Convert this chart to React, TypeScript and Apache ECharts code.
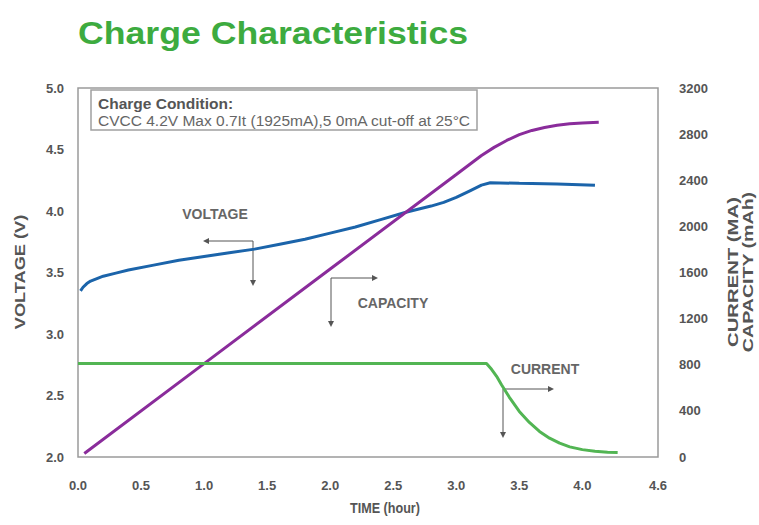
import React, { useEffect, useRef } from "react";
import * as echarts from "echarts";

const xTickValues = [0, 0.5, 1.0, 1.5, 2.0, 2.5, 3.0, 3.5, 4.0, 4.6];

const voltageTime = [0.02, 0.04, 0.07, 0.1, 0.15, 0.2, 0.3, 0.4, 0.6, 0.8, 1.0, 1.2, 1.4, 1.6, 1.8, 2.0, 2.2, 2.4, 2.6, 2.8, 2.9, 3.0, 3.1, 3.2, 3.27, 3.5, 3.8, 4.1];
const voltage = [3.35, 3.38, 3.41, 3.43, 3.45, 3.47, 3.495, 3.52, 3.56, 3.6, 3.63, 3.66, 3.69, 3.73, 3.77, 3.82, 3.87, 3.93, 3.99, 4.04, 4.07, 4.11, 4.16, 4.21, 4.23, 4.225, 4.22, 4.21];

const capacityTime = [0.05, 1.0, 2.0, 3.0, 3.2, 3.3, 3.4, 3.5, 3.6, 3.7, 3.8, 3.9, 4.0, 4.13];
const capacity = [30, 810, 1630, 2450, 2615, 2685, 2745, 2795, 2832, 2858, 2877, 2889, 2896, 2902];

const currentTime = [0.0, 3.24, 3.28, 3.32, 3.36, 3.42, 3.5, 3.58, 3.66, 3.74, 3.82, 3.9, 4.0, 4.1, 4.2, 4.28];
const current = [810, 810, 760, 700, 625, 520, 395, 300, 222, 163, 120, 88, 64, 50, 42, 40];

const GRAY = "#555";
const FONT = "'Liberation Sans', Arial, sans-serif";

function arrowHead(x: number, y: number, dir: "left" | "right" | "down") {
  const s = 6;
  let pts: number[][];
  if (dir === "left") pts = [[x, y], [x + s, y - 3], [x + s, y + 3]];
  else if (dir === "right") pts = [[x, y], [x - s, y - 3], [x - s, y + 3]];
  else pts = [[x, y], [x - 3, y - s], [x + 3, y - s]];
  return { type: "polygon", shape: { points: pts }, style: { fill: GRAY }, silent: true };
}

function seg(x1: number, y1: number, x2: number, y2: number) {
  return { type: "line", shape: { x1, y1, x2, y2 }, style: { stroke: GRAY, lineWidth: 1 }, silent: true };
}

function label(text: string, x: number, y: number) {
  return {
    type: "text",
    x,
    y,
    style: { text, fill: "#666", font: `bold 14px ${FONT}`, textAlign: "center", textVerticalAlign: "middle" },
    silent: true,
  };
}

function vName(text: string, x: number, y: number, sx: number) {
  return {
    type: "text",
    x,
    y,
    rotation: Math.PI / 2,
    scaleX: sx,
    style: { text, fill: GRAY, font: `bold 14px ${FONT}`, textAlign: "center", textVerticalAlign: "middle" },
    silent: true,
  };
}

export default function App() {
  const ref = useRef<HTMLDivElement>(null);
  useEffect(() => {
    if (!ref.current) return;
    const chart = echarts.init(ref.current, undefined, { renderer: "svg" });
    const option: any = {
      animation: false,
      backgroundColor: "#fff",
      grid: { left: 78, right: 101, top: 88, bottom: 68, show: true, borderColor: "#9a9a9a", borderWidth: 1.5, backgroundColor: "transparent" },
      xAxis: {
        type: "value",
        min: 0,
        max: 4.6,
        interval: 0.5,
        axisLine: { show: false },
        axisTick: { show: false },
        splitLine: { show: false },
        axisLabel: {
          customValues: xTickValues,
          margin: 22,
          color: GRAY,
          fontWeight: "bold",
          fontSize: 13,
          fontFamily: FONT,
          formatter: (v: number) => (Math.abs(v - 4.5) < 1e-6 ? "" : v.toFixed(1)),
        },
      },
      yAxis: [
        {
          type: "value",
          min: 2.0,
          max: 5.0,
          interval: 0.5,
          axisLine: { show: false },
          axisTick: { show: false },
          splitLine: { show: false },
          axisLabel: { margin: 14, color: GRAY, fontWeight: "bold", fontSize: 13, fontFamily: FONT, formatter: (v: number) => v.toFixed(1) },
        },
        {
          type: "value",
          min: 0,
          max: 3200,
          interval: 400,
          position: "right",
          axisLine: { show: false },
          axisTick: { show: false },
          splitLine: { show: false },
          axisLabel: { margin: 21, color: GRAY, fontWeight: "bold", fontSize: 13, fontFamily: FONT, formatter: (v: number) => String(v) },
        },
      ],
      series: [
        {
          name: "VOLTAGE",
          type: "line",
          yAxisIndex: 0,
          showSymbol: false,
          data: voltageTime.map((t, i) => [t, voltage[i]]),
          lineStyle: { color: "#1b64aa", width: 3 },
          itemStyle: { color: "#1b64aa" },
        },
        {
          name: "CAPACITY",
          type: "line",
          yAxisIndex: 1,
          showSymbol: false,
          data: capacityTime.map((t, i) => [t, capacity[i]]),
          lineStyle: { color: "#8a2c9b", width: 3 },
          itemStyle: { color: "#8a2c9b" },
        },
        {
          name: "CURRENT",
          type: "line",
          yAxisIndex: 1,
          showSymbol: false,
          data: currentTime.map((t, i) => [t, current[i]]),
          lineStyle: { color: "#52b553", width: 3 },
          itemStyle: { color: "#52b553" },
        },
      ],
      graphic: [
        {
          type: "text",
          x: 78,
          y: 33,
          scaleX: 1.15,
          style: { text: "Charge Characteristics", fill: "#3dab3f", font: `bold 31px ${FONT}`, textVerticalAlign: "middle" },
          silent: true,
        },
        {
          type: "rect",
          shape: { x: 91, y: 90, width: 386, height: 40 },
          style: { fill: "#fff", stroke: "#a0a0a0", lineWidth: 1.5 },
          silent: true,
        },
        {
          type: "text",
          x: 98,
          y: 103,
          style: { text: "Charge Condition:", fill: GRAY, font: `bold 15.5px ${FONT}`, textVerticalAlign: "middle" },
          silent: true,
        },
        {
          type: "text",
          x: 98,
          y: 120,
          style: { text: "CVCC 4.2V Max 0.7It (1925mA),5 0mA cut-off at 25°C", fill: "#666", font: `15.5px ${FONT}`, textVerticalAlign: "middle" },
          silent: true,
        },
        label("VOLTAGE", 215, 214),
        seg(253, 241, 205, 241),
        arrowHead(203, 241, "left"),
        seg(253, 241, 253, 283),
        arrowHead(253, 286, "down"),
        label("CAPACITY", 393, 303),
        seg(331, 278, 375, 278),
        arrowHead(378, 278, "right"),
        seg(331, 278, 331, 324),
        arrowHead(331, 327, "down"),
        label("CURRENT", 545, 369),
        seg(503, 389, 551, 389),
        arrowHead(554, 389, "right"),
        seg(503, 389, 503, 435),
        arrowHead(503, 438, "down"),
        vName("VOLTAGE (V)", 20, 272, 1.3),
        vName("CURRENT (MA)", 733, 272, 1.45),
        vName("CAPACITY (mAh)", 748, 272, 1.4),
        {
          type: "text",
          x: 385,
          y: 508,
          scaleX: 0.9,
          style: { text: "TIME (hour)", fill: GRAY, font: `bold 14px ${FONT}`, textAlign: "center", textVerticalAlign: "middle" },
          silent: true,
        },
      ],
    };
    chart.setOption(option);
    return () => chart.dispose();
  }, []);
  return <div ref={ref} style={{ position: "fixed", left: 0, top: 0, width: 759, height: 525 }} />;
}
